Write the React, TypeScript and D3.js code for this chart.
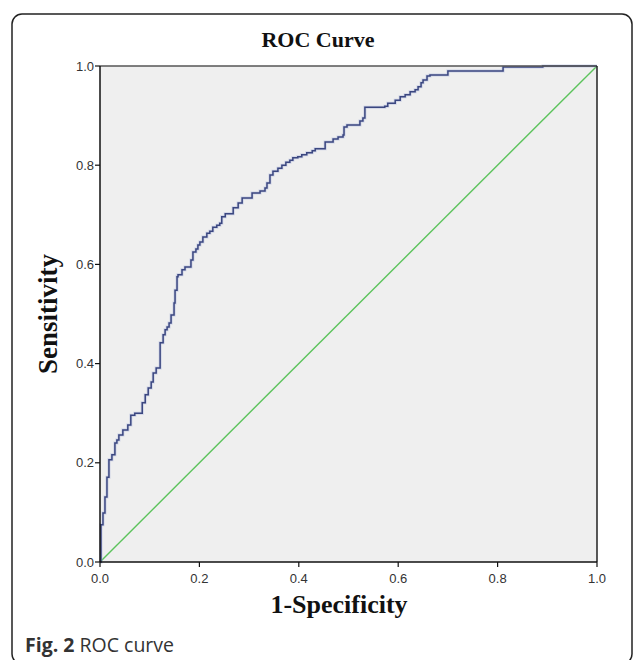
import * as d3 from "d3";

// ROC curve vertices (1-specificity, sensitivity)
const fpr = [0, 0.002, 0.006, 0.01, 0.014, 0.018, 0.024, 0.03, 0.034, 0.038, 0.046, 0.056, 0.062, 0.07, 0.085, 0.091, 0.097, 0.103, 0.107, 0.113, 0.121, 0.127, 0.131, 0.135, 0.139, 0.143, 0.149, 0.151, 0.155, 0.157, 0.165, 0.171, 0.183, 0.187, 0.193, 0.197, 0.201, 0.207, 0.215, 0.221, 0.227, 0.235, 0.241, 0.245, 0.252, 0.268, 0.278, 0.286, 0.306, 0.322, 0.332, 0.336, 0.342, 0.348, 0.358, 0.366, 0.374, 0.382, 0.388, 0.398, 0.406, 0.416, 0.427, 0.433, 0.453, 0.469, 0.479, 0.489, 0.491, 0.497, 0.523, 0.529, 0.533, 0.573, 0.579, 0.594, 0.604, 0.614, 0.624, 0.634, 0.64, 0.646, 0.65, 0.658, 0.664, 0.7, 0.811, 0.891, 1];
const tpr = [0, 0.075, 0.099, 0.131, 0.171, 0.206, 0.216, 0.24, 0.246, 0.256, 0.266, 0.276, 0.296, 0.3, 0.321, 0.337, 0.351, 0.363, 0.381, 0.391, 0.442, 0.458, 0.468, 0.474, 0.482, 0.498, 0.522, 0.548, 0.575, 0.579, 0.589, 0.595, 0.609, 0.625, 0.631, 0.639, 0.645, 0.655, 0.663, 0.667, 0.675, 0.679, 0.683, 0.696, 0.702, 0.714, 0.724, 0.734, 0.744, 0.748, 0.754, 0.764, 0.78, 0.788, 0.794, 0.8, 0.806, 0.81, 0.815, 0.817, 0.821, 0.825, 0.829, 0.833, 0.847, 0.853, 0.857, 0.861, 0.877, 0.881, 0.889, 0.895, 0.917, 0.919, 0.925, 0.931, 0.938, 0.942, 0.948, 0.952, 0.958, 0.966, 0.972, 0.98, 0.982, 0.99, 0.998, 1, 1];
const ticks = [0, 0.2, 0.4, 0.6, 0.8, 1];
const reference = [0, 1];

const left = 100, right = 597, top = 66, bottom = 562;

export default function App() {
    const x = d3.scaleLinear([0, 1], [left, right]);
    const y = d3.scaleLinear([0, 1], [bottom, top]);
    const pts = fpr.map((f, i) => [f, tpr[i]] as [number, number]);
    const roc = d3.line<[number, number]>((d) => x(d[0]), (d) => y(d[1])).curve(d3.curveStepAfter);
    const diag = d3.line<number>((d) => x(d), (d) => y(d));

    return (
        <svg width={635} height={660} style={{ position: "absolute", left: 0, top: 0 }}>
            <rect x={0} y={0} width={635} height={660} fill="white" />
            <rect x={12} y={14} width={620} height={650} rx={10} fill="none" stroke="#222" strokeWidth={1.5} />
            <text x={318} y={47} textAnchor="middle" fontFamily="Liberation Serif" fontWeight="bold" fontSize={22} fill="#111">ROC Curve</text>

            <rect x={left} y={top} width={right - left} height={bottom - top} fill="#efefef" />
            <path d={diag(reference) as string} fill="none" stroke="#5cc35c" strokeWidth={1.4} />
            <path d={roc(pts) as string} fill="none" stroke="#aab4dc" strokeWidth={3} opacity={0.5} />
            <path d={roc(pts) as string} fill="none" stroke="#3b4780" strokeWidth={1.5} />

            <line x1={left} x2={right} y1={top} y2={top} stroke="#555" strokeWidth={1.5} />
            <line x1={right} x2={right} y1={top} y2={bottom} stroke="#222" strokeWidth={1.5} />
            <line x1={left} x2={left} y1={top} y2={bottom} stroke="#111" strokeWidth={1.5} />
            <line x1={left} x2={right} y1={bottom} y2={bottom} stroke="#111" strokeWidth={1.5} />

            {ticks.map((t) => (
                <g key={"y" + t}>
                    <line x1={left - 5} x2={left} y1={y(t)} y2={y(t)} stroke="#111" strokeWidth={1.2} />
                    <text x={left - 6} y={y(t) + 4.5} textAnchor="end" fontFamily="Liberation Sans" fontSize={13} fill="#333">{t.toFixed(1)}</text>
                </g>
            ))}
            {ticks.map((t) => (
                <g key={"x" + t}>
                    <line x1={x(t)} x2={x(t)} y1={bottom} y2={bottom + 5} stroke="#111" strokeWidth={1.2} />
                    <text x={x(t)} y={bottom + 21} textAnchor="middle" fontFamily="Liberation Sans" fontSize={13} fill="#333">{t.toFixed(1)}</text>
                </g>
            ))}

            <text x={339} y={613} textAnchor="middle" fontFamily="Liberation Serif" fontWeight="bold" fontSize={26} fill="#111">1-Specificity</text>
            <text transform="translate(57,314) rotate(-90)" textAnchor="middle" fontFamily="Liberation Serif" fontWeight="bold" fontSize={27} fill="#111">Sensitivity</text>

            <text x={25} y={652} fontFamily="Open Sans" fontSize={19.5} fill="#333">
                <tspan fontWeight="bold">Fig. 2</tspan> ROC curve
            </text>
        </svg>
    );
}
